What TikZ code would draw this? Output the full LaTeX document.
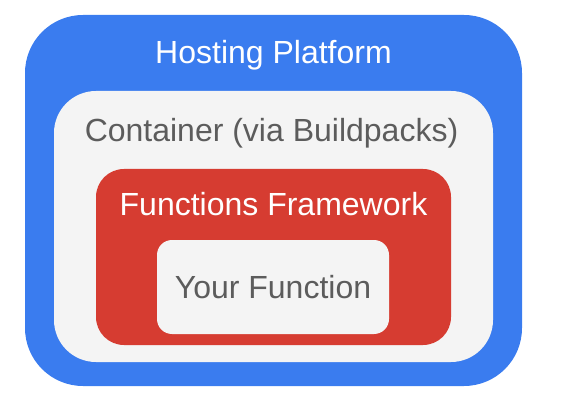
\documentclass[tikz,border=0pt]{standalone}
\usepackage{fontspec}
\setmainfont{Liberation Sans}
\usepackage{xcolor}
\definecolor{hostblue}{HTML}{3A7CEF}
\definecolor{boxgrey}{HTML}{F4F4F4}
\definecolor{fwred}{HTML}{D63C31}
\definecolor{textgrey}{HTML}{5C5C5C}
\tikzset{
  layer/.style={draw=none, rounded corners=#1},
  lbl/.style={font=\fontsize{32}{38}\selectfont, inner sep=0pt, anchor=base}
}

\begin{document}
\begin{tikzpicture}[x=1pt,y=-1pt]
			\useasboundingbox (0,0) rectangle (576,401);
			
			% Hosting platform (outer blue box)
			\fill[layer=58pt,hostblue] (25,15) rectangle (522,386);
			\node[lbl,white] (host) at (273.5,63.5) {Hosting Platform};
			
			% Container
			\fill[layer=42pt,boxgrey] (54,91) rectangle (493,362);
			\node[lbl,textgrey] (cont) at (271.5,141.5) {Container (via Buildpacks)};
			
			% Functions framework
			\fill[layer=28pt,fwred] (96,169) rectangle (451,345);
			\node[lbl,white] (fw) at (273.5,215) {Functions Framework};
			
			% Your function
			\fill[layer=15pt,boxgrey] (157,240) rectangle (389,334);
			\node[lbl,textgrey] (func) at (273,298.5) {Your Function};
			
		\end{tikzpicture}
\end{document}
